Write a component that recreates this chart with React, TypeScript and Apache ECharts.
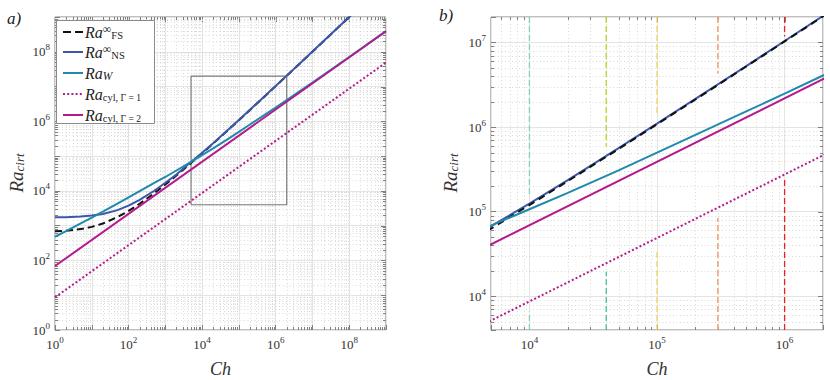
import React, { useEffect, useRef } from "react";
import * as echarts from "echarts";

// ---------- data ----------
const chCurve = [1, 2, 5, 10, 20, 50, 100, 200, 500, 1e3, 2e3, 5e3, 1e4, 2e4, 5e4, 1e5, 2e5, 5e5, 1e6, 2e6, 5e6, 1e7, 1e8, 1e9];
const raFS = [687, 715, 796, 923, 1154, 1762, 2654, 4258, 8580, 15230, 27700, 63140, 119900, 230100, 552000, 1.0785e6, 2.117e6, 5.196e6, 1.028e7, 2.039e7, 5.054e7, 1.006e8, 9.956e8, 9.93e9];
const raNS = [1735, 1760, 1830, 1946, 2170, 2802, 3757, 5489, 10110, 17100, 29400, 67500, 124400, 236000, 565000, 1.1e6, 2.15e6, 5.26e6, 1.04e7, 2.06e7, 5.09e7, 1.012e8, 1.0e9, 1.0e10];
const raW = [480, 700, 1160, 1700, 2520, 4290, 6460, 9780, 17000, 25100, 38600, 68400, 107000, 167000, 308000, 5.0e5, 8.1e5, 1.53e6, 2.48e6, 4.07e6, 7.9e6, 1.31e7, 7.1e7, 3.93e8];
const chPower = [1, 1e9];
const raCyl1 = [8.7, 4.9e7];
const raCyl2 = [69, 3.9e8];

// zoomed window (panel b) and inset box in panel a
const zoomCh = [5e3, 2e6];
const zoomRa = [4e3, 2e7];

// vertical dashed markers in panel b
const markCh = [1e4, 4e4, 1e5, 3e5, 1e6];
const markTopEnd = [1.5e5, 5.9e5, 1.46e6, 4.3e6, 1.18e7];
const markBottomStart = [6.6e3, 1.95e4, 3.5e4, 8.4e4, 2.4e5];

// axis structure
const fullCh = [1, 1e9];
const fullRa = [1, 1e9];
const minorMultipliers = [2, 3, 4, 5, 6, 7, 8, 9];

// legend labels
const legendSup = ["∞", "∞", "", "", ""];
const legendSub = ["FS", "NS", "W", "cyl,", "cyl,"];
const legendSub2 = ["", "", "", "Γ = 1", "Γ = 2"];

// ---------- styles ----------
const markTopColor = ["#7fd4b7", "#b7d31c", "#efd45f", "#f2a574", "#f11e1e"];
const markBottomColor = ["#7fd4b7", "#45c096", "#efd45f", "#f2a574", "#f11e1e"];
const C_BLACK = "#111111";
const C_BLUE = "#3b57a8";
const C_TEAL = "#1f8aab";
const C_MAG = "#b51a8b";
const SERIF = "'Liberation Serif', 'DejaVu Serif', serif";
const FRAME = "#808080";
const TXT = "#333333";

function minorValues(min: number, max: number) {
  const out: number[] = [];
  for (let d = Math.floor(Math.log10(min)) - 1; d <= Math.ceil(Math.log10(max)); d++) {
    for (const k of minorMultipliers) {
      const v = k * Math.pow(10, d);
      if (v > min * 1.0001 && v < max * 0.9999) out.push(v);
    }
  }
  return out;
}
function majorValues(min: number, max: number) {
  const out: number[] = [];
  for (let d = Math.ceil(Math.log10(min) - 1e-9); d <= Math.floor(Math.log10(max) + 1e-9); d++) {
    const v = Math.pow(10, d);
    if (v > min * 1.0001 && v < max * 0.9999) out.push(v);
  }
  return out;
}

const labelRich = {
  b: { fontFamily: SERIF, fontSize: 13, color: TXT, lineHeight: 18 },
  s: { fontFamily: SERIF, fontSize: 9, color: TXT, lineHeight: 10, verticalAlign: "top" },
};
const fmt = (evenOnly: boolean) => (v: number) => {
  const l = Math.log10(v);
  const e = Math.round(l);
  if (Math.abs(l - e) > 1e-6) return "";
  if (evenOnly && e % 2 !== 0) return "";
  return `{b|10}{s|${e}}`;
};

function xAxisCfg(gridIndex: number, range: number[], evenOnly: boolean) {
  return {
    type: "log",
    logBase: 10,
    gridIndex,
    min: range[0],
    max: range[1],
    name: "Ch",
    nameLocation: "middle",
    nameGap: 30,
    nameTextStyle: { fontFamily: SERIF, fontStyle: "italic", fontSize: 18, lineHeight: 18, color: TXT },
    axisLine: { show: false },
    axisTick: { show: true, inside: true, length: 5, lineStyle: { color: FRAME, width: 1 } },
    splitLine: { show: true, lineStyle: { color: "#e4e4e4", width: 1 } },
    minorTick: { show: false },
    minorSplitLine: { show: false },
    axisLabel: { formatter: fmt(evenOnly), rich: labelRich, margin: 5, color: TXT },
  };
}
function yAxisCfg(gridIndex: number, range: number[], evenOnly: boolean) {
  return {
    type: "log",
    logBase: 10,
    gridIndex,
    min: range[0],
    max: range[1],
    axisLine: { show: false },
    axisTick: { show: true, inside: true, length: 5, lineStyle: { color: FRAME, width: 1 } },
    splitLine: { show: true, lineStyle: { color: "#e4e4e4", width: 1 } },
    minorTick: { show: false },
    minorSplitLine: { show: false },
    axisLabel: { formatter: fmt(evenOnly), rich: labelRich, margin: 5, color: TXT },
  };
}

function gridSeries(idx: number, xr: number[], yr: number[]) {
  const data: number[][] = [];
  minorValues(xr[0], xr[1]).forEach((v) => data.push([v, yr[0], 0]));
  majorValues(xr[0], xr[1]).forEach((v) => data.push([v, yr[0], 1]));
  minorValues(yr[0], yr[1]).forEach((v) => data.push([xr[0], v, 2]));
  majorValues(yr[0], yr[1]).forEach((v) => data.push([xr[0], v, 3]));
  return {
    type: "custom",
    xAxisIndex: idx,
    yAxisIndex: idx,
    silent: true,
    z: 1,
    encode: { x: 0, y: 1 },
    data,
    renderItem: (params: any, api: any) => {
      const kind = api.value(2);
      const cs = params.coordSys;
      const children: any[] = [];
      const tick = { stroke: FRAME, lineWidth: 1 };
      const minorGrid = { stroke: "#cfcfcf", lineWidth: 0.8, lineDash: [1, 2.5] };
      if (kind < 2) {
        const p = api.coord([api.value(0), yr[0]]);
        const x = Math.round(p[0]) + 0.5;
        const len = kind === 0 ? 3 : 5;
        if (kind === 0) children.push({ type: "line", shape: { x1: x, y1: cs.y, x2: x, y2: cs.y + cs.height }, style: minorGrid });
        children.push({ type: "line", shape: { x1: x, y1: cs.y, x2: x, y2: cs.y + len }, style: tick });
        if (kind === 0) children.push({ type: "line", shape: { x1: x, y1: cs.y + cs.height, x2: x, y2: cs.y + cs.height - len }, style: tick });
      } else {
        const p = api.coord([xr[0], api.value(1)]);
        const y = Math.round(p[1]) + 0.5;
        const len = kind === 2 ? 3 : 5;
        if (kind === 2) children.push({ type: "line", shape: { x1: cs.x, y1: y, x2: cs.x + cs.width, y2: y }, style: minorGrid });
        children.push({ type: "line", shape: { x1: cs.x + cs.width, y1: y, x2: cs.x + cs.width - len, y2: y }, style: tick });
        if (kind === 2) children.push({ type: "line", shape: { x1: cs.x, y1: y, x2: cs.x + len, y2: y }, style: tick });
      }
      return { type: "group", children };
    },
  };
}

function lineSeries(name: string, xs: number[], ys: number[], color: string, type: any, width: number, idx: number, z: number) {
  return {
    type: "line",
    name,
    xAxisIndex: idx,
    yAxisIndex: idx,
    data: xs.map((x, i) => [x, ys[i]]),
    showSymbol: false,
    symbol: "none",
    smooth: false,
    clip: true,
    silent: true,
    z,
    lineStyle: { color, width, type, cap: "butt" },
    itemStyle: { color },
  };
}

function buildOption() {
  const series: any[] = [];
  series.push(gridSeries(0, fullCh, fullRa));
  series.push(gridSeries(1, zoomCh, zoomRa));

  // ---- panel a ----
  series.push(
    lineSeries("box", [zoomCh[0], zoomCh[1], zoomCh[1], zoomCh[0], zoomCh[0]], [zoomRa[0], zoomRa[0], zoomRa[1], zoomRa[1], zoomRa[0]], "#7a7a7a", "solid", 1.2, 0, 2)
  );
  series.push(lineSeries("FS a", chCurve, raFS, C_BLACK, [7, 4], 2, 0, 3));
  series.push(lineSeries("NS a", chCurve, raNS, C_BLUE, "solid", 2, 0, 4));
  series.push(lineSeries("W a", chCurve, raW, C_TEAL, "solid", 2, 0, 5));
  series.push(lineSeries("cyl1 a", chPower, raCyl1, C_MAG, [2, 2.2], 2, 0, 6));
  series.push(lineSeries("cyl2 a", chPower, raCyl2, C_MAG, "solid", 2, 0, 7));

  // ---- panel b ----
  markCh.forEach((c, i) => {
    series.push(lineSeries("mt" + i, [c, c], [zoomRa[1], markTopEnd[i]], markTopColor[i], [6, 3], i === 3 ? 1.6 : 1.3, 1, 2));
    series.push(lineSeries("mb" + i, [c, c], [zoomRa[0], markBottomStart[i]], markBottomColor[i], [6, 3], i === 3 ? 1.6 : 1.3, 1, 2));
  });
  series.push(lineSeries("NS b", chCurve, raNS, C_BLUE, "solid", 2, 1, 3));
  series.push(lineSeries("FS b", chCurve, raFS, C_BLACK, [7, 5], 2, 1, 4));
  series.push(lineSeries("W b", chCurve, raW, C_TEAL, "solid", 2, 1, 5));
  series.push(lineSeries("cyl2 b", chPower, raCyl2, C_MAG, "solid", 2, 1, 6));
  series.push(lineSeries("cyl1 b", chPower, raCyl1, C_MAG, [2, 2.2], 2, 1, 7));

  // ---- legend (panel a) ----
  const rows = [32, 52, 73, 94, 115];
  const Z = 100;
  const g: any[] = [];
  g.push({ type: "rect", z: Z, shape: { x: 56.5, y: 20.5, width: 98, height: 103 }, style: { fill: "#ffffff", stroke: "#8a8a8a", lineWidth: 1 } });
  const icons: [string, any][] = [
    [C_BLACK, [8, 4]],
    [C_BLUE, null],
    [C_TEAL, null],
    [C_MAG, [2, 2.2]],
    [C_MAG, null],
  ];
  const legendRich = {
    ra: { fontFamily: SERIF, fontStyle: "italic", fontSize: 16, lineHeight: 18, fill: "#222" },
    sp: { fontFamily: SERIF, fontSize: 12, lineHeight: 9, fill: "#222", verticalAlign: "top" },
    w: { fontFamily: SERIF, fontStyle: "italic", fontSize: 11.5, lineHeight: 10, fill: "#222", verticalAlign: "bottom" },
    sb: { fontFamily: SERIF, fontSize: 10.5, lineHeight: 9, fill: "#222", verticalAlign: "bottom" },
    sb2: { fontFamily: SERIF, fontSize: 9.5, lineHeight: 9, fill: "#222", verticalAlign: "bottom" },
  };
  rows.forEach((y, i) => {
    g.push({ type: "line", z: Z + 1, shape: { x1: 63, y1: y, x2: 83, y2: y }, style: { stroke: icons[i][0], lineWidth: 2, lineDash: icons[i][1] } });
    let text = "{ra|Ra}";
    if (legendSup[i]) text += `{sp|${legendSup[i]}}{sb|${legendSub[i]}}`;
    else if (legendSub[i] === "W") text += `{w|${legendSub[i]}}`;
    else text += `{sb|${legendSub[i]}}{sb2| ${legendSub2[i]}}`;
    g.push({
      type: "text",
      z: Z + 1,
      x: 85,
      y,
      style: { text, rich: legendRich, align: "left", verticalAlign: "middle" },
    });
  });

  // y axis titles (rotated)
  const yTitle = (x: number) => ({
    type: "text",
    z: Z,
    x,
    y: 173,
    rotation: Math.PI / 2,
    style: {
      text: "{a|Ra}{c|cirt}",
      align: "center",
      verticalAlign: "middle",
      rich: {
        a: { fontFamily: SERIF, fontStyle: "italic", fontSize: 19, lineHeight: 20, fill: TXT },
        c: { fontFamily: SERIF, fontStyle: "italic", fontSize: 13, lineHeight: 12, fill: TXT, verticalAlign: "bottom" },
      },
    },
  });
  g.push(yTitle(16));
  g.push(yTitle(450));

  // panel labels
  g.push({ type: "text", z: Z, x: 7, y: 18, style: { text: "a)", fontFamily: SERIF, fontSize: 17, fontStyle: "italic", fill: "#222", verticalAlign: "middle" } });
  g.push({ type: "text", z: Z, x: 439, y: 15, style: { text: "b)", fontFamily: SERIF, fontSize: 17, fontStyle: "italic", fill: "#222", verticalAlign: "middle" } });

  return {
    animation: false,
    backgroundColor: "#ffffff",
    textStyle: { fontFamily: SERIF },
    grid: [
      { left: 55, top: 17, width: 331, height: 313, show: true, borderColor: FRAME, borderWidth: 1, backgroundColor: "#ffffff", containLabel: false, outerBoundsMode: "none" },
      { left: 491, top: 17, width: 332, height: 313, show: true, borderColor: FRAME, borderWidth: 1, backgroundColor: "#ffffff", containLabel: false, outerBoundsMode: "none" },
    ],
    xAxis: [xAxisCfg(0, fullCh, true), xAxisCfg(1, zoomCh, false)],
    yAxis: [yAxisCfg(0, fullRa, true), yAxisCfg(1, zoomRa, false)],
    series,
    graphic: g,
  };
}

export default function App() {
  const ref = useRef<HTMLDivElement>(null);
  useEffect(() => {
    if (!ref.current) return;
    const chart = echarts.init(ref.current, undefined, { renderer: "svg" });
    chart.setOption(buildOption() as any);
    return () => chart.dispose();
  }, []);
  return (
    <div
      ref={ref}
      style={{ position: "fixed", left: 0, top: 0, width: 830, height: 380, background: "#ffffff" }}
    />
  );
}
